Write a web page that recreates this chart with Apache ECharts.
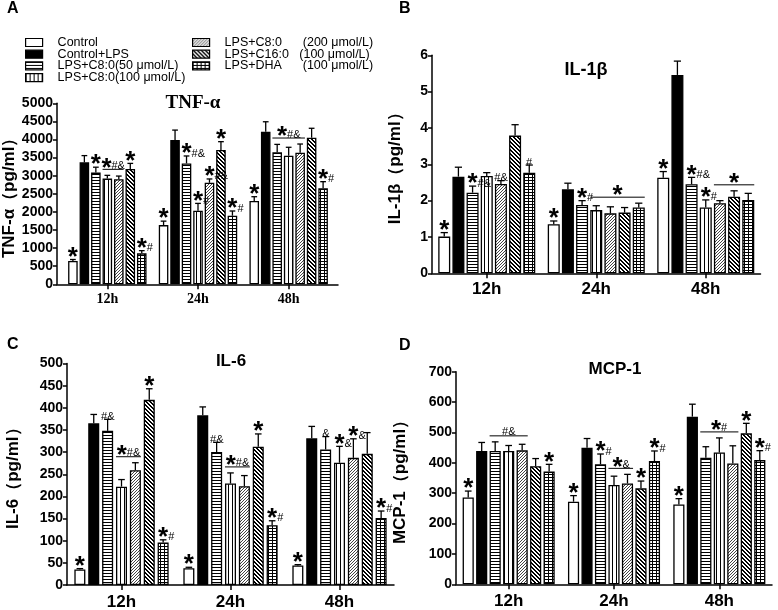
<!DOCTYPE html>
<html><head><meta charset="utf-8">
<script src="https://cdn.jsdelivr.net/npm/echarts@6/dist/echarts.min.js"></script>
<style>html,body{margin:0;padding:0;background:#fff;}#chart{width:778px;height:610px;}</style>
</head><body><div id="chart"></div>
<script>
// ---------------- data ----------------
const categories = ['12h', '24h', '48h'];
const groupNames = ['Control', 'Control+LPS', 'LPS+C8:0(50 μmol/L)', 'LPS+C8:0(100 μmol/L)',
  'LPS+C8:0      (200 μmol/L)', 'LPS+C16:0   (100 μmol/L)', 'LPS+DHA      (100 μmol/L)'];

// rows = time points (12h, 24h, 48h); columns = groups in groupNames order
const tnfMean = [
  [645, 3370, 3085, 2920, 2900, 3185, 855],
  [1635, 3985, 3340, 2035, 2805, 3710, 1895],
  [2300, 4215, 3645, 3550, 3635, 4050, 2650]
];
const tnfErr = [
  [40, 185, 150, 90, 90, 155, 75],
  [110, 275, 205, 200, 105, 230, 130],
  [120, 275, 220, 235, 240, 260, 185]
];
const il1bMean = [
  [1.01, 2.66, 2.22, 2.68, 2.46, 3.79, 2.77],
  [1.35, 2.31, 1.88, 1.74, 1.65, 1.67, 1.81],
  [2.63, 5.46, 2.45, 1.81, 1.93, 2.11, 2.02]
];
const il1bErr = [
  [0.11, 0.26, 0.18, 0.09, 0.09, 0.30, 0.21],
  [0.09, 0.17, 0.12, 0.12, 0.18, 0.14, 0.12],
  [0.17, 0.38, 0.19, 0.21, 0.07, 0.16, 0.18]
];
const il6Mean = [
  [35, 365, 348, 222, 259, 418, 96],
  [38, 383, 300, 229, 223, 312, 135],
  [44, 331, 306, 276, 287, 296, 151]
];
const il6Err = [
  [2, 20, 26, 16, 17, 25, 6],
  [2, 19, 22, 24, 24, 29, 10],
  [2, 27, 29, 37, 43, 48, 16]
];
const mcpMean = [
  [286, 439, 439, 439, 441, 389, 371],
  [272, 450, 395, 327, 332, 316, 406],
  [263, 552, 417, 434, 398, 497, 409]
];
const mcpErr = [
  [21, 28, 30, 18, 20, 25, 24],
  [20, 30, 34, 29, 30, 24, 33],
  [19, 41, 36, 48, 58, 33, 31]
];

// significance marks: [time index, first group, last group, text]
const tnfMarks = [
  [0, 0, 0, '*'], [0, 2, 2, '*'], [0, 3, 4, '*#&'], [0, 5, 5, '*'], [0, 6, 6, '*#'],
  [1, 0, 0, '*'], [1, 2, 2, '*#&'], [1, 3, 3, '*#'], [1, 4, 4, '*#&'], [1, 5, 5, '*'], [1, 6, 6, '*#'],
  [2, 0, 0, '*'], [2, 2, 4, '*#&'], [2, 6, 6, '*#']
];
const il1bMarks = [
  [0, 0, 0, '*'], [0, 2, 2, '*#&'], [0, 4, 4, '#&'], [0, 6, 6, '#'],
  [1, 0, 0, '*'], [1, 2, 2, '*#'], [1, 3, 6, '*'],
  [2, 0, 0, '*'], [2, 2, 2, '*#&'], [2, 3, 3, '*#'], [2, 4, 6, '*']
];
const il6Marks = [
  [0, 0, 0, '*'], [0, 2, 2, '#&'], [0, 3, 4, '*#&'], [0, 5, 5, '*'], [0, 6, 6, '*#'],
  [1, 0, 0, '*'], [1, 2, 2, '#&'], [1, 3, 4, '*#&'], [1, 5, 5, '*'], [1, 6, 6, '*#'],
  [2, 0, 0, '*'], [2, 2, 2, '&'], [2, 3, 3, '*&'], [2, 4, 4, '*&'], [2, 6, 6, '*#']
];
const mcpMarks = [
  [0, 0, 0, '*'], [0, 2, 4, '#&'], [0, 6, 6, '*'],
  [1, 0, 0, '*'], [1, 2, 2, '*#'], [1, 3, 4, '*&'], [1, 5, 5, '*'], [1, 6, 6, '*#'],
  [2, 0, 0, '*'], [2, 2, 4, '*#'], [2, 5, 5, '*'], [2, 6, 6, '*#']
];

// ---------------- styles ----------------
const SANS = 'Arial, "Liberation Sans", sans-serif';
const SERIF = '"Times New Roman", "Liberation Serif", serif';

function pattern(w, h, draw) {
  const c = document.createElement('canvas');
  c.width = w; c.height = h;
  const x = c.getContext('2d');
  x.fillStyle = '#fff'; x.fillRect(0, 0, w, h);
  x.fillStyle = '#000';
  draw(x);
  return { image: c, repeat: 'repeat' };
}
const fills = [
  '#ffffff',
  '#000000',
  pattern(4, 3, x => x.fillRect(0, 0, 4, 1)),
  pattern(4, 4, x => x.fillRect(0, 0, 1, 4)),
  pattern(3, 3, x => { x.fillStyle = '#444'; for (let i = 0; i < 3; i++) x.fillRect(2 - i, i, 1, 1); }),
  pattern(4, 4, x => { for (let i = 0; i < 4; i++) { x.fillRect(i, i, 1, 1); x.fillRect((i + 1) % 4, i, 1, 1); } }),
  pattern(4, 3, x => { x.fillRect(0, 0, 4, 1); x.fillRect(0, 0, 1, 3); })
];

const panels = [
  { mean: tnfMean, err: tnfErr, marks: tnfMarks, max: 5000, interval: 500,
    grid: { left: 62, top: 103.3, width: 272, height: 181 }, yOffset: 5, lineGrid: { left: 57, width: 281 },
    yName: 'TNF-α（pg/ml）', nameGap: 32, catGap: 0.135, barGap: 0.2,
    xFont: { fontFamily: SERIF, fontSize: 14, fontWeight: 'bold' }, xMargin: 8 },
  { mean: il1bMean, err: il1bErr, marks: il1bMarks, max: 6, interval: 1,
    grid: { left: 432, top: 55.3, width: 328.5, height: 218 }, yOffset: 0,
    yName: 'IL-1β（pg/ml）', nameGap: 28, catGap: 0.114, barGap: 0.18,
    xFont: { fontFamily: SANS, fontSize: 17, fontWeight: 'bold' }, xMargin: 8 },
  { mean: il6Mean, err: il6Err, marks: il6Marks, max: 500, interval: 50,
    grid: { left: 67, top: 363.5, width: 327, height: 221.5 }, yOffset: 0,
    yName: 'IL-6（pg/ml）', nameGap: 45, catGap: 0.135, barGap: 0.26,
    xFont: { fontFamily: SANS, fontSize: 17, fontWeight: 'bold' }, xMargin: 9 },
  { mean: mcpMean, err: mcpErr, marks: mcpMarks, max: 700, interval: 100,
    grid: { left: 456, top: 371.7, width: 316, height: 212.6 }, yOffset: 0,
    yName: 'MCP-1（pg/ml）', nameGap: 47, catGap: 0.126, barGap: 0.21,
    xFont: { fontFamily: SANS, fontSize: 17, fontWeight: 'bold' }, xMargin: 9 }
];

const axisLine = { show: true, lineStyle: { color: '#000', width: 1.5 } };

function barPos(api, P, ci, s) {
  const band = api.size([1, 0])[0];
  const n = groupNames.length, g = P.barGap;
  const w = band * (1 - P.catGap) / (n + (n - 1) * g);
  const total = n * w + (n - 1) * g * w;
  const cx = api.coord([ci, 0])[0];
  return { x: cx - total / 2 + s * w * (1 + g) + w / 2, w: w };
}
const markRich = {
  s: { fontFamily: SANS, fontSize: 26, fontWeight: 'bold', lineHeight: 8, verticalAlign: 'bottom', color: '#000' },
  m: { fontFamily: SANS, fontSize: 11, lineHeight: 11, verticalAlign: 'bottom', color: '#000' }
};
const STAR_W = 10, CHAR_W = 6.6;
function markText(str, x, y, align) {
  return { type: 'text', x: x, y: y, style: { text: str, align: align, verticalAlign: 'bottom', rich: markRich, fill: '#000' } };
}

const grids = [], xAxes = [], yAxes = [], series = [];
panels.forEach((P, pi) => {
  grids.push(Object.assign({ containLabel: false, outerBoundsMode: 'none' }, P.grid));
  const gi = grids.length - 1;
  xAxes.push({
    type: 'category', gridIndex: gi, data: categories,
    axisLine: P.lineGrid ? { show: false } : axisLine,
    axisTick: { show: true, alignWithLabel: true, length: 5, lineStyle: { color: '#000', width: 1.5 } },
    axisLabel: Object.assign({ color: '#000', margin: P.xMargin }, P.xFont),
    splitLine: { show: false }
  });
  yAxes.push({
    type: 'value', gridIndex: gi, min: 0, max: P.max, interval: P.interval, offset: P.yOffset,
    axisLine: axisLine,
    axisTick: { show: true, length: 4, lineStyle: { color: '#000', width: 1.5 } },
    axisLabel: { color: '#000', fontFamily: SANS, fontSize: 14, fontWeight: 'bold', margin: 4, formatter: v => String(v) },
    splitLine: { show: false },
    name: P.yName, nameLocation: 'middle', nameRotate: 90, nameGap: P.nameGap + P.yOffset,
    nameTextStyle: { color: '#000', fontFamily: SANS, fontSize: 17, fontWeight: 'bold' }
  });
  const ax = xAxes.length - 1;
  groupNames.forEach((name, s) => {
    series.push({
      type: 'bar', name: name, xAxisIndex: ax, yAxisIndex: ax,
      data: categories.map((c, ci) => P.mean[ci][s]),
      barGap: (P.barGap * 100) + '%', barCategoryGap: (P.catGap * 100) + '%',
      itemStyle: { color: fills[s], borderColor: '#000', borderWidth: 1.3 },
      emphasis: { disabled: true }, animation: false, z: 2
    });
  });
  // error bars (upper only)
  const errData = [];
  categories.forEach((c, ci) => groupNames.forEach((n, s) => errData.push([ci, s, P.mean[ci][s], P.err[ci][s]])));
  series.push({
    type: 'custom', xAxisIndex: ax, yAxisIndex: ax, data: errData, encode: { x: 0, y: 2 }, z: 3, animation: false,
    silent: true,
    renderItem: (params, api) => {
      const ci = api.value(0), s = api.value(1), v = api.value(2), e = api.value(3);
      const b = barPos(api, P, ci, s);
      const y0 = api.coord([ci, v])[1], y1 = api.coord([ci, v + e])[1];
      const hw = b.w * 0.3;
      return { type: 'group', children: [
        { type: 'line', shape: { x1: b.x, y1: y0, x2: b.x, y2: y1 }, style: { stroke: '#000', lineWidth: 1.3 } },
        { type: 'line', shape: { x1: b.x - hw, y1: y1, x2: b.x + hw, y2: y1 }, style: { stroke: '#000', lineWidth: 1.3 } }
      ] };
    }
  });
  // significance marks
  const markData = P.marks.map(m => {
    let top = 0;
    for (let s = m[1]; s <= m[2]; s++) top = Math.max(top, P.mean[m[0]][s] + P.err[m[0]][s]);
    return [m[0], top];
  });
  series.push({
    type: 'custom', xAxisIndex: ax, yAxisIndex: ax, data: markData, encode: { x: 0, y: 1 }, z: 4, animation: false,
    silent: true, clip: false,
    renderItem: (params, api) => {
      const m = P.marks[params.dataIndex];
      const ci = m[0], t = m[3];
      const hasStar = t[0] === '*', rest = hasStar ? t.slice(1) : t;
      const restW = rest.length * CHAR_W;
      const topY = api.coord([ci, api.value(1)])[1];
      const a = barPos(api, P, ci, m[1]), b = barPos(api, P, ci, m[2]);
      const children = [];
      let base, sx, rx, starDy, restDy;
      if (m[2] > m[1]) {
        base = topY - 6;
        children.push({ type: 'line', shape: { x1: a.x - a.w / 2, y1: base, x2: b.x + b.w / 2, y2: base },
          style: { stroke: '#000', lineWidth: 1 } });
        const total = (hasStar ? STAR_W : 0) + restW;
        const start = (a.x + b.x) / 2 - total / 2;
        sx = start + STAR_W / 2; rx = start + (hasStar ? STAR_W : 0);
        starDy = 12; restDy = 2;
      } else {
        base = topY;
        if (hasStar) { sx = a.x; rx = a.x + STAR_W / 2; } else { rx = a.x - restW / 2; }
        starDy = 11; restDy = 3;
      }
      if (hasStar) children.push(markText('{s|*}', sx, base + starDy, 'center'));
      if (rest) children.push(markText('{m|' + rest + '}', rx, base + restDy, 'left'));
      return { type: 'group', children: children };
    }
  });
  if (P.lineGrid) {
    grids.push({ containLabel: false, outerBoundsMode: 'none', left: P.lineGrid.left, width: P.lineGrid.width,
      top: P.grid.top, height: P.grid.height });
    const g2 = grids.length - 1;
    xAxes.push({ type: 'value', gridIndex: g2, min: 0, max: 1, axisLine: axisLine,
      axisTick: { show: false }, axisLabel: { show: false }, splitLine: { show: false } });
    yAxes.push({ type: 'value', gridIndex: g2, show: false, min: 0, max: 1 });
  }
});

const legendBase = {
  orient: 'vertical', top: 36, padding: 0, itemWidth: 17, itemHeight: 8, itemGap: -1.3, icon: 'rect', selectedMode: false,
  itemStyle: { borderColor: '#000', borderWidth: 1.2 },
  textStyle: { color: '#000', fontFamily: SANS, fontSize: 12.5, lineHeight: 10.7, padding: [0, 0, 0, 10] }
};
const legends = [
  Object.assign({}, legendBase, { left: 25, data: groupNames.slice(0, 4) }),
  Object.assign({}, legendBase, { left: 192, data: groupNames.slice(4) })
];

const txt = (t, x, y, font, align) => ({ type: 'text', x: x, y: y,
  style: { text: t, font: font, fill: '#000', align: align || 'left', verticalAlign: 'middle' } });
const graphics = [
  txt('A', 7, 8.5, 'bold 16px ' + SANS),
  txt('B', 399, 8.5, 'bold 16px ' + SANS),
  txt('C', 7, 345, 'bold 16px ' + SANS),
  txt('D', 399, 346, 'bold 16px ' + SANS),
  txt('TNF-α', 193, 103.5, 'bold 19px ' + SERIF, 'center'),
  txt('IL-1β', 586, 70, 'bold 18px ' + SANS, 'center'),
  txt('IL-6', 231, 361, 'bold 17px ' + SANS, 'center'),
  txt('MCP-1', 615, 369, 'bold 17px ' + SANS, 'center')
];

const chart = echarts.init(document.getElementById('chart'), null, { renderer: 'canvas' });
chart.setOption({
  backgroundColor: '#ffffff',
  animation: false,
  grid: grids, xAxis: xAxes, yAxis: yAxes, series: series,
  legend: legends,
  graphic: graphics
});
</script></body></html>
